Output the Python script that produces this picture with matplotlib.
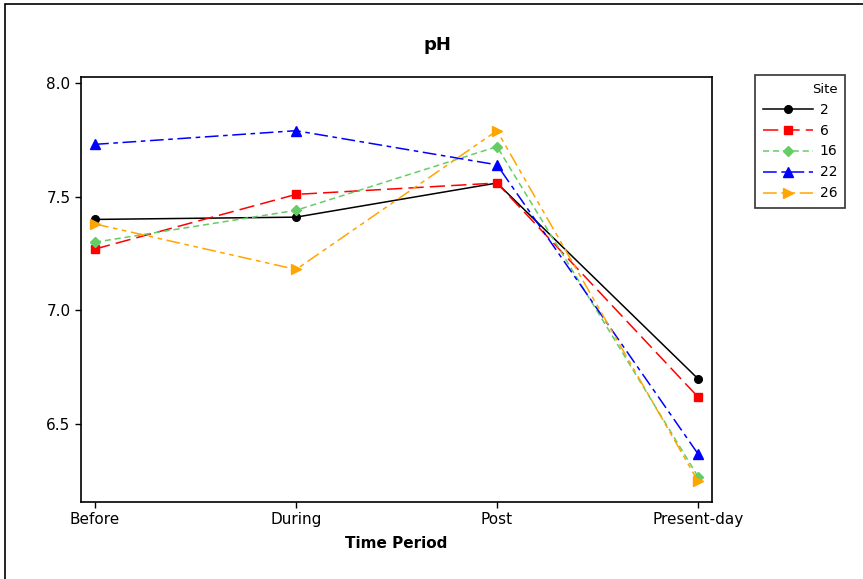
import numpy as np
import matplotlib.pyplot as plt
from matplotlib.patches import Rectangle

# pH by time period for each site
periods = ["Before", "During", "Post", "Present-day"]
sites = ["2", "6", "16", "22", "26"]
ph_site2 = [7.40, 7.41, 7.56, 6.70]
ph_site6 = [7.27, 7.51, 7.56, 6.62]
ph_site16 = [7.30, 7.44, 7.72, 6.27]
ph_site22 = [7.73, 7.79, 7.64, 6.37]
ph_site26 = [7.38, 7.18, 7.79, 6.25]

series = [ph_site2, ph_site6, ph_site16, ph_site22, ph_site26]
colors = ["black", "#FF0000", "#66CC66", "#0000FF", "#FFA500"]
markers = ["o", "s", "D", "^", ">"]
msizes = [5.5, 5.5, 5.5, 6.5, 6.5]
styles = ["-", (0, (10, 4)), (0, (4, 2.5)), (0, (9, 3, 3, 3)), (0, (9, 3, 3, 3, 3, 3))]

W, H = 863, 579
fig = plt.figure(figsize=(W / 100, H / 100), dpi=100)
plt.rcParams['font.family'] = ['DejaVu Sans']

# outer frame (right / bottom edges fall outside the picture)
fig.patches.append(Rectangle((5 / W, -0.2), 2.0, 1.2 - 4 / H, transform=fig.transFigure,
                             fill=False, edgecolor="black", linewidth=1.2))

ax = fig.add_axes([81 / W, 1 - 502 / H, (712 - 81) / W, (502 - 77) / H])
x = np.arange(1, len(periods) + 1)
for vals, name, c, m, ms, ls in zip(series, sites, colors, markers, msizes, styles):
    ax.plot(x, vals, color=c, marker=m, markersize=ms, linestyle=ls, linewidth=1.1, label=name)

ax.set_xlim(0.93, 4.07)
ax.set_ylim(6.158, 8.026)
ax.set_xticks(x)
ax.set_xticklabels(periods, fontsize=11)
ax.set_yticks([6.5, 7.0, 7.5, 8.0])
ax.set_yticklabels(["6.5", "7.0", "7.5", "8.0"], fontsize=11)
ax.tick_params(direction="out", length=4, width=1)
for s in ax.spines.values():
    s.set_linewidth(1.2)
ax.set_xlabel("Time Period", fontsize=11, fontweight="bold", labelpad=6)

fig.text(437 / W, 1 - 45 / H, "pH", ha="center", va="center", fontsize=13, fontweight="bold")

leg = ax.legend(title="Site", loc="upper left", bbox_to_anchor=(755 / W, 1 - 75 / H),
                bbox_transform=fig.transFigure, fontsize=10, title_fontsize=9.5,
                frameon=True, fancybox=False, edgecolor="black", handlelength=3.6,
                borderpad=0.55, labelspacing=0.5, handletextpad=0.5, borderaxespad=0)
leg.get_frame().set_linewidth(1.2)
leg._legend_box.align = "right"

fig.savefig("out.png", dpi=100)
